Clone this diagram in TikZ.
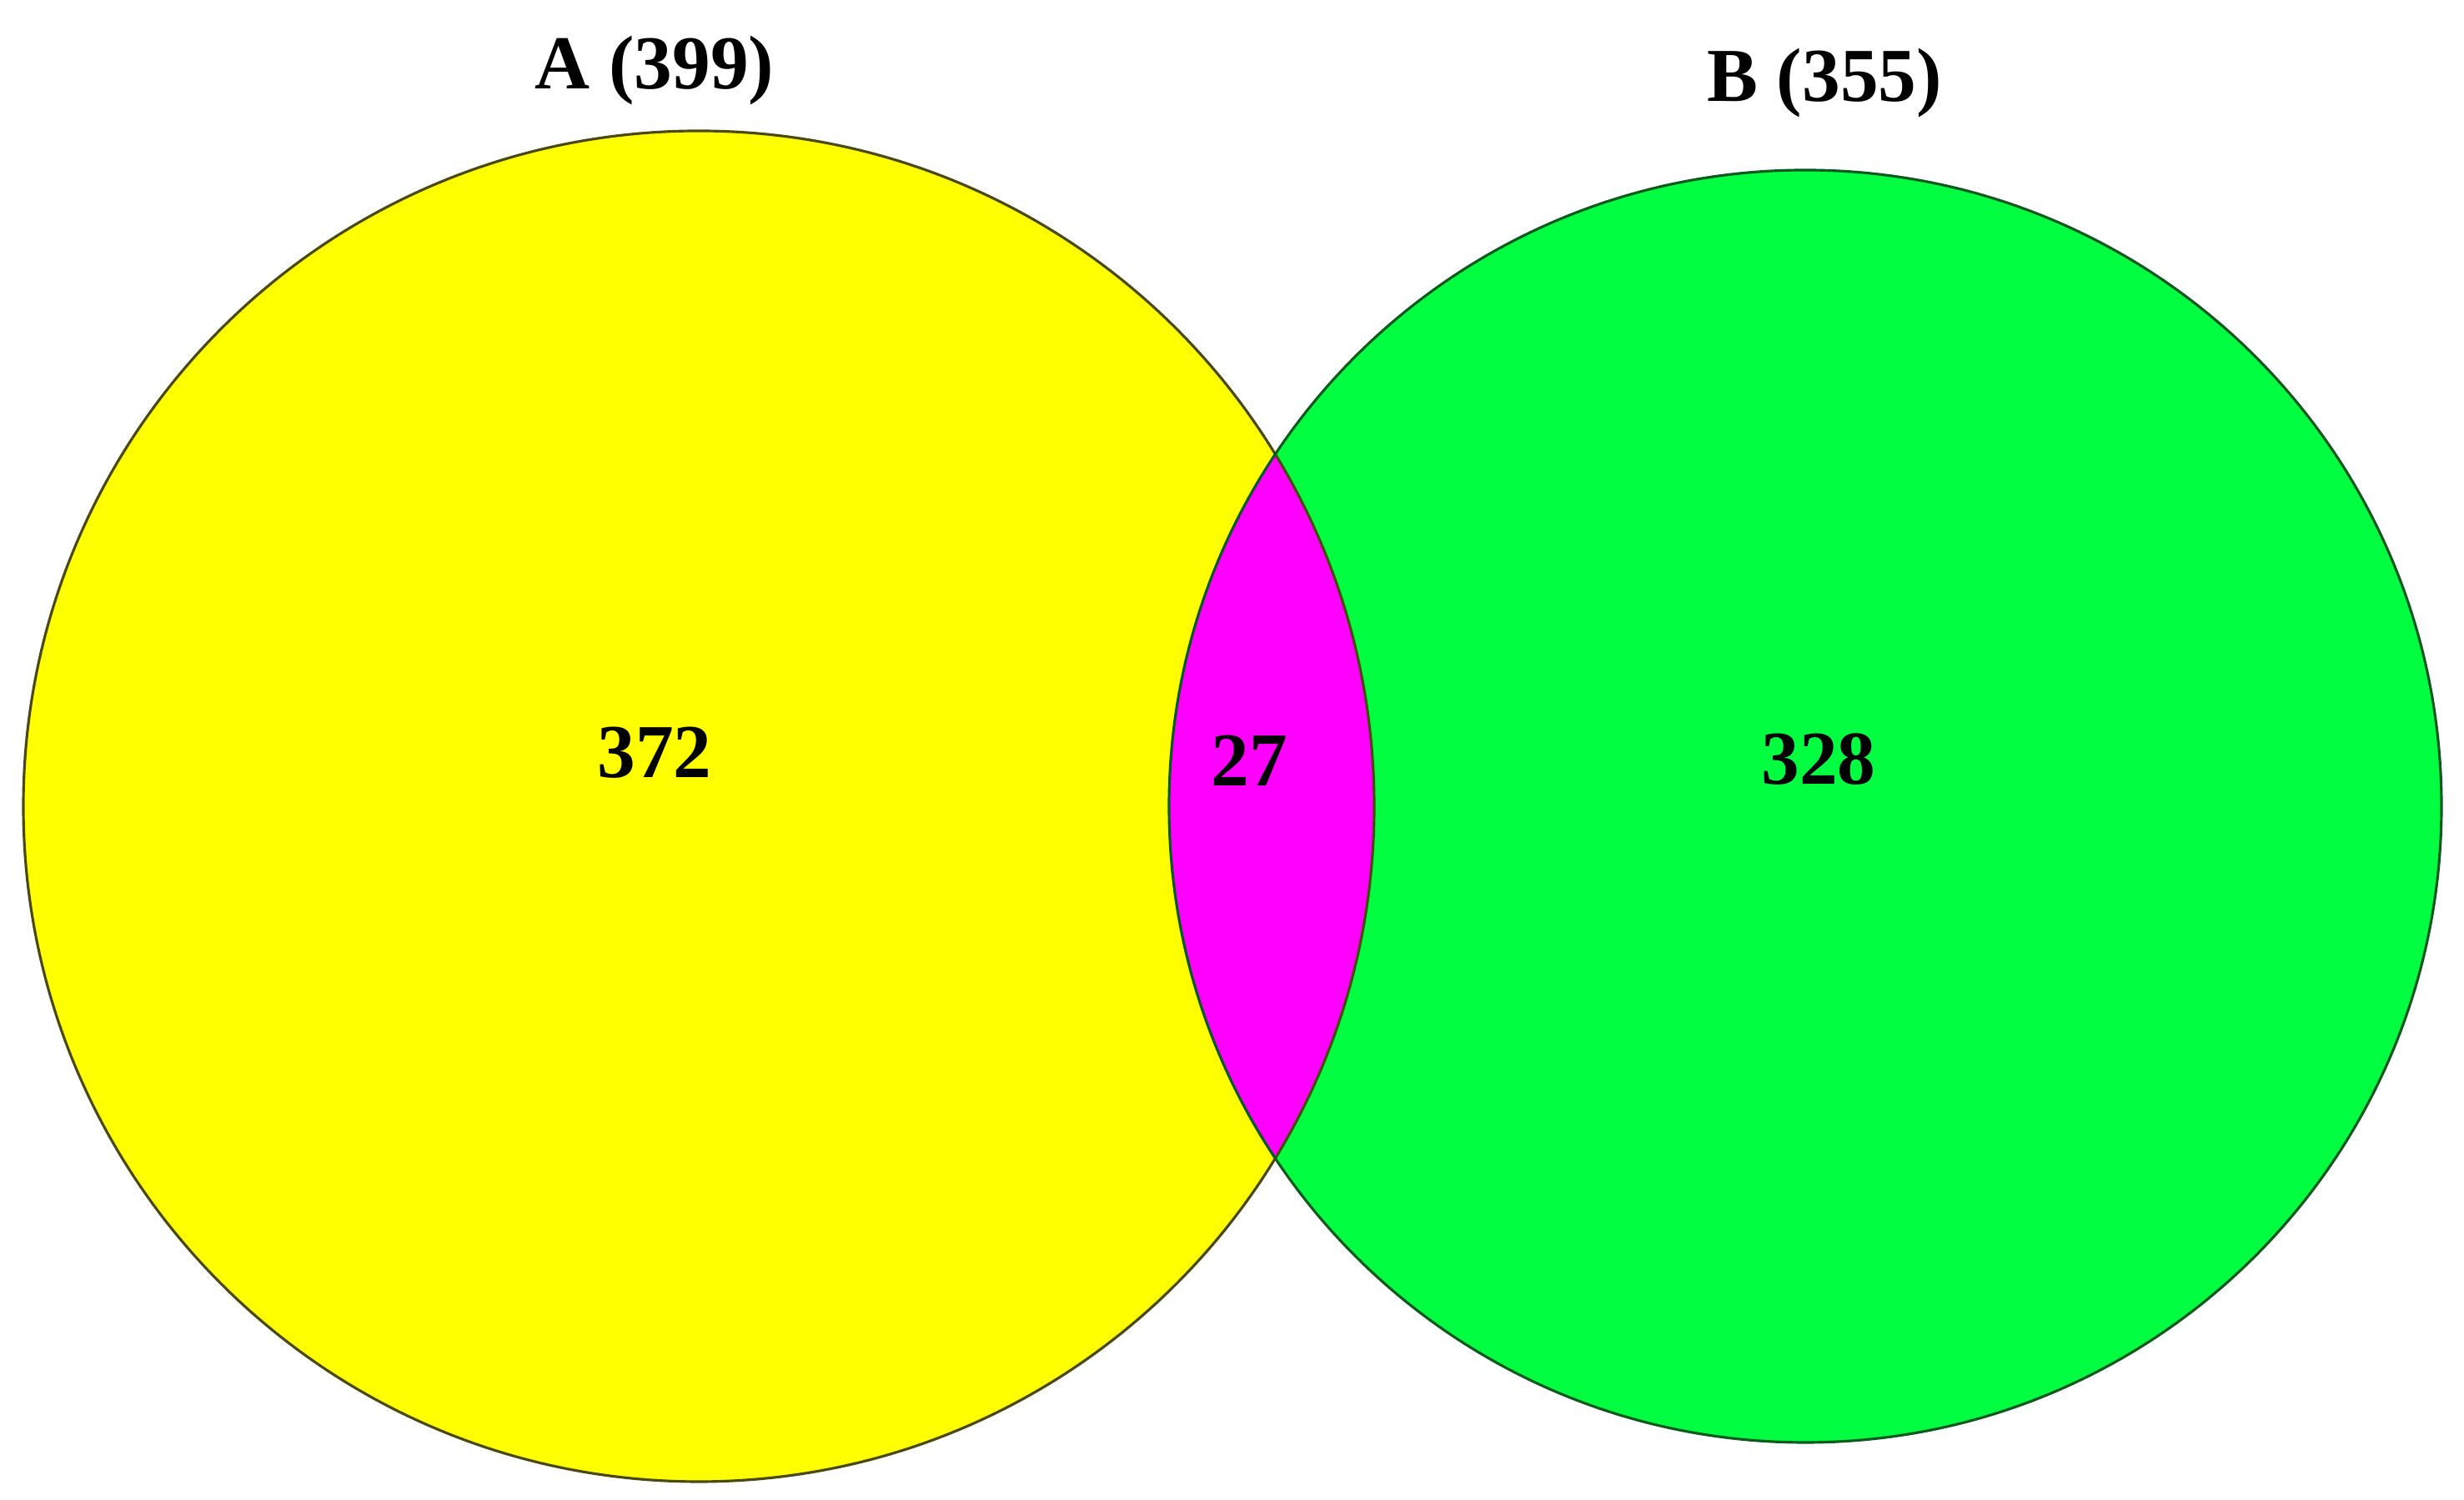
\documentclass[tikz,border=0pt]{standalone}
\usepackage{fontspec}
\setmainfont{Liberation Serif}
\definecolor{vyellow}{HTML}{FFFF00}
\definecolor{vgreen}{HTML}{00FF40}
\definecolor{vmagenta}{HTML}{FF00FF}
\definecolor{yedge}{HTML}{4A4A10}
\definecolor{gedge}{HTML}{0A5A20}
\begin{document}
\begin{tikzpicture}[
  lbl/.style={font=\fontsize{26}{30}\selectfont\bfseries, inner sep=0pt},
  setA/.style={circle, minimum size=16.2cm, inner sep=0pt},
  setB/.style={circle, minimum size=15.26cm, inner sep=0pt}
]
\useasboundingbox (0,0) rectangle (29.55,17.99);
\fill[white] (0,0) rectangle (29.55,17.99);
% fills
\fill[vyellow] (8.38,8.32) circle (8.10);
\fill[vgreen] (21.65,8.32) circle (7.63);
\begin{scope}
  \clip (8.38,8.32) circle (8.10);
  \fill[vmagenta] (21.65,8.32) circle (7.63);
\end{scope}
% outlines
\node[setA, draw=yedge, line width=0.9pt] (A) at (8.38,8.32) {};
\node[setB, draw=gedge, line width=0.9pt] (B) at (21.65,8.32) {};
% labels
\node[lbl, anchor=base] (tA) at (7.85,16.92) {A (399)};
\node[lbl, anchor=base] (tB) at (21.88,16.77) {B (355)};
\node[lbl] (nA) at (7.85,8.96) {372};
\node[lbl] (nAB) at (14.98,8.87) {27};
\node[lbl] (nB) at (21.81,8.88) {328};
\end{tikzpicture}
\end{document}
